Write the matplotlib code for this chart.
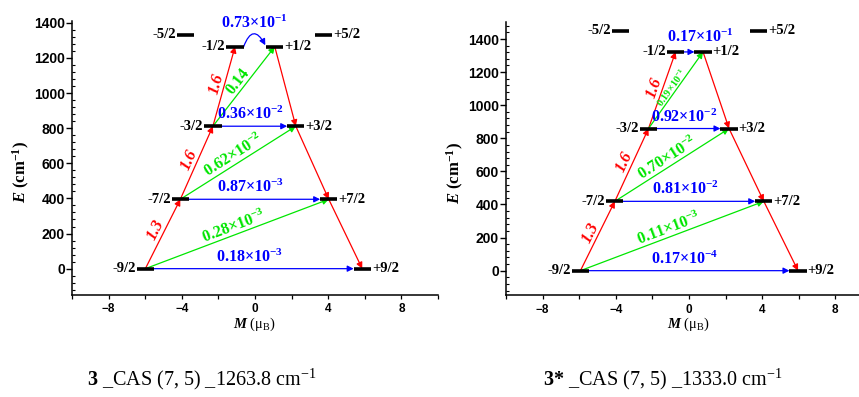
import numpy as np
import matplotlib.pyplot as plt
from matplotlib.ticker import MultipleLocator

plt.rcParams['mathtext.fontset'] = 'custom'
plt.rcParams['mathtext.rm'] = 'Liberation Serif'
plt.rcParams['mathtext.it'] = 'Liberation Serif:italic:bold'
plt.rcParams['mathtext.bf'] = 'Liberation Serif:bold'

# Kramers doublets: energy (cm-1) and magnetic moment (muB) of the -m / +m states
doublets = ['9/2', '7/2', '3/2', '1/2', '5/2']

energy_3 = [0, 395, 811, 1264, 1333]
m_neg_3 = [-5.99, -4.08, -2.30, -1.09, -3.80]
m_pos_3 = [5.86, 4.03, 2.23, 1.08, 3.75]
red_3 = ['1.3', '1.6', '1.6']
green_3 = [('0.28', -3), ('0.62', -2), ('0.14', None)]
blue_3 = [('0.18', -3), ('0.87', -3), ('0.36', -2), ('0.73', -1)]

energy_3s = [0, 419, 859, 1322, 1450]
m_neg_3s = [-5.93, -4.05, -2.21, -0.73, -3.74]
m_pos_3s = [5.96, 4.09, 2.19, 0.77, 3.80]
red_3s = ['1.3', '1.6', '1.6']
green_3s = [('0.11', -3), ('0.70', -2), ('0.19', -1)]
blue_3s = [('0.17', -4), ('0.81', -2), ('0.92', -2), ('0.17', -1)]

RED = '#ff0000'
GREEN = '#00e600'
BLUE = '#0000ff'
HW = 0.47  # half width of a level bar


def fmt(val):
    mant, exp = val
    if exp is None:
        return mant
    return mant + '×10$^{\\mathbf{' + str(exp) + '}}$'


def arrow(ax, p0, p1, color, rad=0.0):
    ax.annotate('', xy=p1, xytext=p0, zorder=3,
                arrowprops=dict(arrowstyle='-|>', color=color, lw=0.9,
                                shrinkA=0, shrinkB=0, mutation_scale=9,
                                connectionstyle=f'arc3,rad={rad}'))


def slanted_label(ax, p0, p1, text, color, size, style='normal', off=9):
    d0 = ax.transData.transform(p0)
    d1 = ax.transData.transform(p1)
    dx, dy = d1 - d0
    ang = np.degrees(np.arctan2(dy, dx))
    n = np.array([-dy, dx]) / np.hypot(dx, dy) * off
    mid = ((p0[0] + p1[0]) / 2, (p0[1] + p1[1]) / 2)
    ax.annotate(text, xy=mid, xytext=n, textcoords='offset pixels',
                rotation=ang, rotation_mode='anchor', ha='center', va='center',
                color=color, fontsize=size, fontstyle=style, fontweight='bold',
                family='Liberation Serif')


def draw_panel(ax, energy, m_neg, m_pos, red, green, blue, ytop, curved, small_top):
    ax.set_xlim(-10, 10)
    ax.set_ylim(-150, ytop)
    for s in ['top', 'right']:
        ax.spines[s].set_visible(False)
    for s in ['left', 'bottom']:
        ax.spines[s].set_linewidth(1.1)
    ax.xaxis.set_major_locator(MultipleLocator(4))
    ax.xaxis.set_minor_locator(MultipleLocator(2))
    ax.yaxis.set_minor_locator(MultipleLocator(40))
    ax.set_yticks(np.arange(0, 1401, 200))
    ax.tick_params(axis='y', which='major', direction='out', length=4, width=1, pad=1)
    ax.tick_params(axis='y', which='minor', direction='in', length=2.5, width=0.8)
    ax.tick_params(axis='x', which='both', direction='out', length=2.8, width=0.9, pad=3)
    for t in ax.get_yticklabels():
        t.set_fontfamily('Liberation Sans')
        t.set_fontweight('bold')
        t.set_fontsize(10)
    for t in ax.get_xticklabels():
        t.set_fontfamily('Liberation Sans')
        t.set_fontweight('bold')
        t.set_fontsize(8.5)
    ax.set_ylabel(r'$E$ (cm$^{\mathbf{-1}}$)', family='Liberation Serif',
                  fontweight='bold', fontsize=12)
    ax.yaxis.set_label_coords(-0.11, 0.45)
    ax.set_xlabel(r'$M$ (μ$_\mathrm{B}$)', family='Liberation Serif', fontsize=10.5)
    ax.xaxis.set_label_coords(0.5, -0.075)

    # level bars and labels
    for lab, e, mn, mp in zip(doublets, energy, m_neg, m_pos):
        ax.plot([mn - HW, mn + HW], [e, e], color='k', lw=2.6,
                solid_capstyle='butt', zorder=5)
        ax.plot([mp - HW, mp + HW], [e, e], color='k', lw=2.6,
                solid_capstyle='butt', zorder=5)
        kw = dict(va='center', family='Liberation Serif', fontweight='bold', fontsize=10.5)
        ax.text(mn - HW - 0.05, e, '-' + lab, ha='right', **kw)
        ax.text(mp + HW + 0.05, e, '+' + lab, ha='left', **kw)

    # red: Orbach path up the -m side and down the +m side
    for i in range(3):
        p0, p1 = (m_neg[i], energy[i]), (m_neg[i + 1], energy[i + 1])
        arrow(ax, p0, p1, RED)
        slanted_label(ax, p0, p1, red[i], RED, 12, style='italic', off=8)
    for i in range(3, 0, -1):
        arrow(ax, (m_pos[i], energy[i]), (m_pos[i - 1], energy[i - 1]), RED)

    # green: -m(i) -> +m(i+1)
    for i in range(3):
        p0, p1 = (m_neg[i], energy[i]), (m_pos[i + 1], energy[i + 1])
        arrow(ax, p0, p1, GREEN)
        size = 7.5 if (small_top and i == 2) else 11.5
        slanted_label(ax, p0, p1, fmt(green[i]), GREEN, size, off=8 if size > 8 else 5)

    # blue: QTM within each doublet
    for i in range(4):
        e = energy[i]
        ha = 'center'
        if curved and i == 3:
            p0, p1 = (m_neg[i] + HW, e), (m_pos[i] - HW * 1.1, e + 8)
            arrow(ax, p0, p1, BLUE, rad=-1.1)
            dy = 15
            x = (p0[0] + p1[0]) / 2
        elif i == 3:
            p0, p1 = (m_neg[i], e), (m_pos[i] - HW, e)
            arrow(ax, p0, p1, BLUE)
            dy = 6
            x, ha = m_neg[i] - HW, 'left'
        else:
            p0, p1 = (m_neg[i], e), (m_pos[i] - HW, e)
            arrow(ax, p0, p1, BLUE)
            dy = 3
            x = (p0[0] + p1[0]) / 2
        ax.annotate(fmt(blue[i]), xy=(x, e), xytext=(0, dy), textcoords='offset pixels',
                    ha=ha, va='bottom', color=BLUE, fontsize=11.5,
                    family='Liberation Serif', fontweight='bold')


fig = plt.figure(figsize=(8.59, 3.97), dpi=100)
ax1 = fig.add_axes([0.0838, 0.2569, 0.4261, 0.6902])
ax2 = fig.add_axes([0.589, 0.2557, 0.4261, 0.6877])

draw_panel(ax1, energy_3, m_neg_3, m_pos_3, red_3, green_3, blue_3, 1410, True, False)
draw_panel(ax2, energy_3s, m_neg_3s, m_pos_3s, red_3s, green_3s, blue_3s, 1500, False, True)

fig.text(0.101, 0.03, r'$\mathbf{3}$ _CAS (7, 5) _1263.8 cm$^{-1}$',
         family='Liberation Serif', fontsize=14.5, ha='left', va='baseline')
fig.text(0.632, 0.03, r'$\mathbf{3{*}}$ _CAS (7, 5) _1333.0 cm$^{-1}$',
         family='Liberation Serif', fontsize=14.5, ha='left', va='baseline')

fig.savefig('out.png', dpi=100)
